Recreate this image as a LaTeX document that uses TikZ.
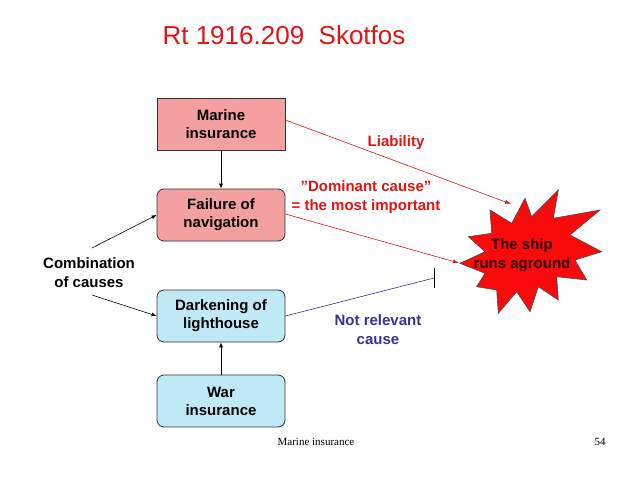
\documentclass[tikz,border=0pt]{standalone}
\usepackage{fontspec}
\setmainfont{Liberation Sans}
\newfontfamily\footfont{Liberation Serif}
\usetikzlibrary{arrows.meta}
\definecolor{pinkfill}{RGB}{245,160,160}
\definecolor{bluefill}{RGB}{192,233,246}
\definecolor{redtxt}{RGB}{225,20,20}
\definecolor{navytxt}{RGB}{51,51,150}
\definecolor{starred}{RGB}{250,10,10}
\tikzset{
  box/.style={draw=black!80, line width=0.8pt, minimum width=128pt, minimum height=52pt,
    align=center, font=\fontsize{15}{18}\selectfont\bfseries, inner sep=0pt},
  rbox/.style={box, rounded corners=7pt},
  lbl/.style={align=center, font=\fontsize{15}{19}\selectfont\bfseries, inner sep=0pt},
  blk/.style={-{Latex[length=5pt,width=4pt]}, black, line width=0.6pt},
  redarr/.style={-{Latex[length=6pt,width=4pt]}, redtxt, line width=0.6pt},
}
\begin{document}
\begin{tikzpicture}[x=1pt,y=-1pt]
\useasboundingbox (0,0) rectangle (638,479);
\node[font=\fontsize{26}{30}\selectfont, text=redtxt, anchor=base] (title) at (284,44) {Rt 1916.209\ \ Skotfos};
\node[box, fill=pinkfill] (marine) at (221,124) {Marine\\insurance};
\node[rbox, fill=pinkfill] (fail) at (221,215) {Failure of\\navigation};
\node[rbox, fill=bluefill] (dark) at (221,316) {Darkening of\\lighthouse};
\node[rbox, fill=bluefill] (war) at (221,401) {War\\insurance};
\node[lbl] (comb) at (89,273) {Combination\\of causes};
\node[lbl, text=redtxt] (liab) at (396,143) {Liability};
\node[lbl, text=redtxt] (dom) at (366,197) {”Dominant cause”\\= the most important};
\node[lbl, text=navytxt] (notrel) at (378,330) {Not relevant\\cause};
% star
\draw[fill=starred, draw=black!70, line width=0.6pt]
 (460,263.3) -- (485,251.7) -- (468.3,236.7) -- (491.7,233.3) -- (490,210) -- (511.7,223.3)
 -- (525,198.3) -- (531.7,216.7) -- (558.3,190) -- (553.3,218.3) -- (600,210) -- (570,235)
 -- (601.7,251.7) -- (575,260) -- (586.7,280) -- (556.7,276.7) -- (558.3,300) -- (538.3,286.7)
 -- (530,311.7) -- (516.7,291.7) -- (498.3,313.3) -- (496.7,290) -- (476.7,286.7) -- (485,273.3) -- cycle;
\node[lbl, text=black!85!red] (ship) at (522,255) {The ship\\runs aground};
% connectors
\draw[blk] (marine.south) -- (fail.north);
\draw[blk] (war.north) -- (dark.south);
\coordinate (c1) at (92,248);
\coordinate (c2) at (92,295);
\draw[blk] (c1) -- (fail.west);
\draw[blk] (c2) -- (dark.west);
\coordinate (liabend) at (511,204);
\coordinate (domend) at (459,263);
\draw[redarr] ([yshift=4pt]marine.east) -- (liabend);
\draw[redarr] ([yshift=1pt]fail.east) -- (domend);
\coordinate (barpt) at (434,278);
\draw[navytxt, line width=0.6pt] (dark.east) -- (barpt);
\draw[black, line width=0.8pt] ([yshift=-10pt]barpt) -- ([yshift=10pt]barpt);
% footer
\node[font=\footfont\fontsize{11}{13}\selectfont, anchor=base] (foot) at (316,445) {Marine insurance};
\node[font=\footfont\fontsize{11}{13}\selectfont, anchor=base] (page) at (600,445) {54};
\end{tikzpicture}
\end{document}
